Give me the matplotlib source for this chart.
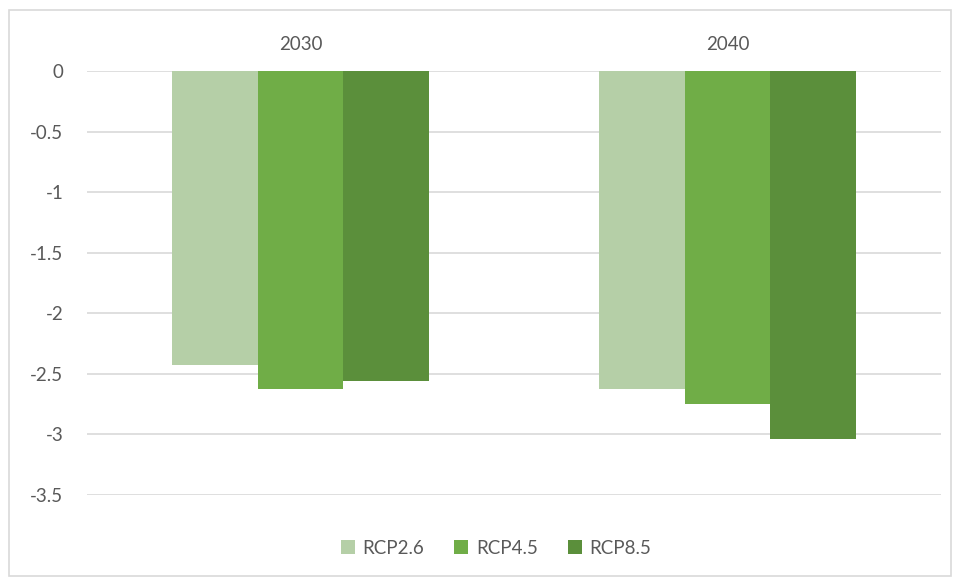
import numpy as np
import matplotlib.pyplot as plt
from matplotlib.patches import Rectangle

years = ['2030', '2040']
series = ['RCP2.6', 'RCP4.5', 'RCP8.5']
rcp26 = [-2.43, -2.63]
rcp45 = [-2.63, -2.75]
rcp85 = [-2.56, -3.04]
colors = ['#b5cfa7', '#70ad47', '#5b8f3b']
yticks = [0, -0.5, -1, -1.5, -2, -2.5, -3, -3.5]

plt.rcParams['font.family'] = ['Lato', 'DejaVu Sans']
txt = '#595959'

fig = plt.figure(figsize=(9.58, 5.81), dpi=100)
ax = fig.add_axes([87/958, 1 - 494.7/581, (941 - 87)/958, (494.7 - 71)/581])

x = np.arange(len(years))
w = 0.2
for i, (vals, name) in enumerate(zip([rcp26, rcp45, rcp85], series)):
    ax.bar(x + (i - 1) * w, vals, w, color=colors[i], label=name, zorder=2)

ax.set_xlim(-0.5, 1.5)
ax.set_ylim(-3.5, 0)
ax.set_yticks(yticks)
ax.set_yticklabels([f'{v:g}' for v in yticks])
ax.yaxis.grid(True, color='#d9d9d9', linewidth=1.2, zorder=0)
ax.set_axisbelow(True)
ax.xaxis.tick_top()
ax.set_xticks(x)
ax.set_xticklabels(years)
ax.tick_params(axis='x', length=0, pad=13, labelsize=13.5, colors=txt)
ax.tick_params(axis='y', length=0, pad=17, labelsize=13.5, colors=txt)
for s in ax.spines.values():
    s.set_visible(False)

ax.legend(loc='center', bbox_to_anchor=(496/958, 1 - 548/581), bbox_transform=fig.transFigure,
          ncol=3, frameon=False, fontsize=13.5, handlelength=0.75, handleheight=0.75,
          handletextpad=0.4, columnspacing=1.6, labelcolor=txt)

fig.patches.append(Rectangle((9/958, 1 - 576/581), 942/958, 566/581, transform=fig.transFigure,
                             fill=False, edgecolor='#d9d9d9', linewidth=1.2))

fig.savefig('out.png', dpi=100)
